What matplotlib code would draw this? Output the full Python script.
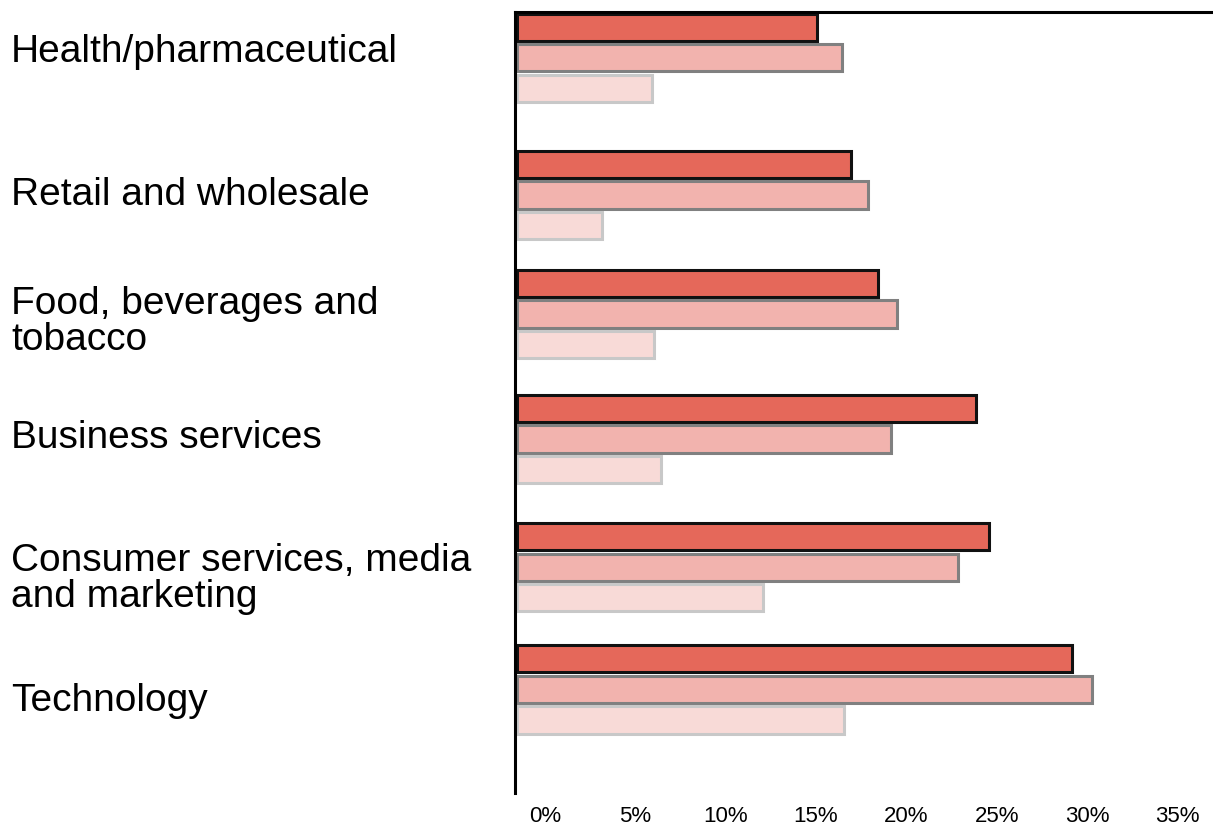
import matplotlib
matplotlib.use("Agg")
import matplotlib.pyplot as plt
import matplotlib.transforms as mtransforms
import numpy as np

plt.rcParams['font.family'] = ['Liberation Sans', 'DejaVu Sans']

# sectors, top to bottom
sectors = ['Health/pharmaceutical', 'Retail and wholesale',
           'Food, beverages and\ntobacco', 'Business services',
           'Consumer services, media\nand marketing', 'Technology']

# three series per sector (%)
series_a = [16.6, 18.5, 20.0, 25.4, 26.1, 30.7]
series_b = [18.0, 19.4, 21.0, 20.7, 24.4, 31.8]
series_c = [7.5, 4.7, 7.6, 8.0, 13.6, 18.1]

ticks = [0, 5, 10, 15, 20, 25, 30, 35]
tick_labels = ['0%', '5%', '10%', '15%', '20%', '25%', '30%', '35%']

# vertical layout (bar-pitch units, counted from the top)
group_y = [1.5, 6.0, 9.9, 14.0, 18.2, 22.2]
label_y = [1.3, 6.0, 10.15, 13.95, 18.6, 22.6]

fills = ['#e5685a', '#f2b3ae', '#f8dad7']
edges = ['#111111', '#808080', '#c8c8c8']

fig = plt.figure(figsize=(12.13, 8.30), dpi=100)
ax = fig.add_axes([515 / 1213, 37 / 830, 698 / 1213, 781 / 830])

gy = np.array(group_y)
for k, vals in enumerate([series_a, series_b, series_c]):
    ax.barh(gy + (k - 1) * 1.0, vals, height=0.9, left=0,
            color=fills[k], edgecolor=edges[k], linewidth=2.2)

ax.set_xlim(-0.1, 38.5)
ax.set_ylim(25.6, 0)

ax.spines['right'].set_visible(False)
ax.spines['bottom'].set_visible(False)
ax.spines['left'].set_linewidth(2.2)
ax.spines['top'].set_linewidth(2.2)

ax.set_yticks([])
ax.set_xticks(ticks)
ax.set_xticklabels(tick_labels, fontsize=16)
ax.tick_params(axis='x', length=0, pad=9)
shift = mtransforms.ScaledTranslation(0.28, 0, fig.dpi_scale_trans)
for lbl in ax.get_xticklabels():
    lbl.set_transform(lbl.get_transform() + shift)

trans = mtransforms.blended_transform_factory(fig.transFigure, ax.transData)
for name, y in zip(sectors, label_y):
    ax.text(11 / 1213, y, name, transform=trans, ha='left', va='center',
            fontsize=28, linespacing=1.0, clip_on=False)

fig.savefig('out.png', dpi=100)
